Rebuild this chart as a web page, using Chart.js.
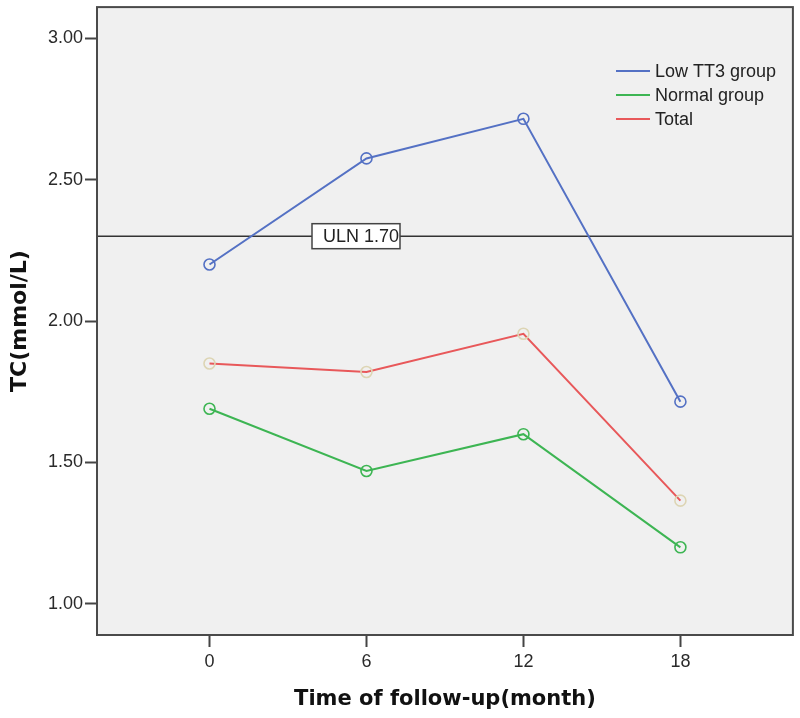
<!DOCTYPE html>
<html>
<head>
<meta charset="utf-8">
<script src="https://cdn.jsdelivr.net/npm/chart.js@4"></script>
<style>
  html, body { margin: 0; padding: 0; background: #fff; }
  #wrap { width: 800px; height: 718px; }
</style>
</head>
<body>
<div id="wrap"><canvas id="graph" width="800" height="718"></canvas></div>
<script>
const months = [0, 6, 12, 18];
const lowTT3 = [2.20, 2.575, 2.715, 1.715];
const normal = [1.69, 1.47, 1.60, 1.20];
const total = [1.85, 1.82, 1.955, 1.365];
const seriesNames = ['Low TT3 group', 'Normal group', 'Total'];
const yTicks = [1.00, 1.50, 2.00, 2.50, 3.00];
const ulnValue = 2.30;
const ulnLabel = 'ULN 1.70';

const canvas = document.getElementById('graph');
const ctx = canvas.getContext('2d');

const colors = ['#5471c4', '#3db553', '#e8585a'];
const markerColors = ['#5471c4', '#3db553', '#ddd5b4'];
const textFont = 'Arial, "Liberation Sans"';
const titleFont = '"DejaVu Sans", Verdana, sans-serif';

function toPoints(vals) {
  return months.map((m, i) => ({ x: m, y: vals[i] }));
}

// plot background, frame, ULN line + legend
const decor = {
  id: 'decor',
  beforeDatasetsDraw(chart) {
    const a = chart.chartArea;
    const c = chart.ctx;
    c.save();
    c.fillStyle = '#f0f0f0';
    c.fillRect(a.left, a.top, a.right - a.left, a.bottom - a.top);

    // ULN line
    const y = chart.scales.y.getPixelForValue(ulnValue);
    c.strokeStyle = '#333';
    c.lineWidth = 1.5;
    c.beginPath();
    c.moveTo(a.left, y);
    c.lineTo(a.right, y);
    c.stroke();
    c.restore();
  },
  afterDatasetsDraw(chart) {
    const a = chart.chartArea;
    const c = chart.ctx;
    c.save();
    // ULN label box
    const y = chart.scales.y.getPixelForValue(ulnValue);
    c.font = '18px ' + textFont;
    const bx = 312, bw = 88, bh = 25;
    c.fillStyle = '#fff';
    c.fillRect(bx, y - bh / 2, bw, bh);
    c.strokeStyle = '#444';
    c.lineWidth = 1.5;
    c.strokeRect(bx, y - bh / 2, bw, bh);
    c.fillStyle = '#222';
    c.textBaseline = 'middle';
    c.fillText(ulnLabel, bx + 11, y + 1);

    // legend
    seriesNames.forEach((name, i) => {
      const ly = 71 + i * 24;
      c.strokeStyle = colors[i];
      c.lineWidth = 2;
      c.beginPath();
      c.moveTo(616, ly);
      c.lineTo(650, ly);
      c.stroke();
      c.fillStyle = '#222';
      c.fillText(name, 655, ly + 1);
    });

    // frame
    c.strokeStyle = '#4a4a4a';
    c.lineWidth = 2;
    c.strokeRect(a.left, a.top, a.right - a.left, a.bottom - a.top);
    c.restore();
  }
};

new Chart(ctx, {
  type: 'line',
  data: {
    datasets: [lowTT3, normal, total].map((vals, i) => ({
      label: seriesNames[i],
      data: toPoints(vals),
      borderColor: colors[i],
      borderWidth: 2,
      pointStyle: 'circle',
      pointRadius: 5.5,
      pointBorderWidth: 1.6,
      pointBorderColor: markerColors[i],
      pointBackgroundColor: 'rgba(0,0,0,0)',
      tension: 0,
      fill: false
    }))
  },
  options: {
    responsive: false,
    animation: false,
    layout: { padding: { top: 6, right: 4, left: 0, bottom: 0 } },
    plugins: { legend: { display: false }, tooltip: { enabled: false } },
    scales: {
      x: {
        type: 'linear',
        min: -4.3,
        max: 22.3,
        afterBuildTicks: s => { s.ticks = months.map(v => ({ value: v })); },
        afterFit: s => { s.height = 83; s.paddingLeft = 0; s.paddingRight = 0; },
        grid: { drawOnChartArea: false, drawTicks: true, tickLength: 12, tickWidth: 2, tickColor: '#444' },
        border: { display: false },
        ticks: { color: '#2a2a2a', font: { size: 18, family: textFont }, padding: 4, maxRotation: 0 },
        title: {
          display: true,
          text: 'Time of follow-up(month)',
          color: '#111',
          font: { size: 21, weight: 'bold', family: titleFont },
          padding: { top: 0, bottom: 6 }
        }
      },
      y: {
        min: 0.89,
        max: 3.11,
        afterBuildTicks: s => { s.ticks = yTicks.map(v => ({ value: v })); },
        afterFit: s => { s.width = 97; s.paddingTop = 0; s.paddingBottom = 0; },
        grid: { drawOnChartArea: false, drawTicks: true, tickLength: 12, tickWidth: 2, tickColor: '#444' },
        border: { display: false },
        ticks: { color: '#2a2a2a', font: { size: 18, family: textFont }, padding: 2, callback: v => v.toFixed(2) },
        title: {
          display: true,
          text: 'TC(mmol/L)',
          color: '#111',
          font: { size: 22, weight: 'bold', family: titleFont },
          padding: { top: 7, bottom: 0 }
        }
      }
    }
  },
  plugins: [decor]
});
</script>
</body>
</html>
